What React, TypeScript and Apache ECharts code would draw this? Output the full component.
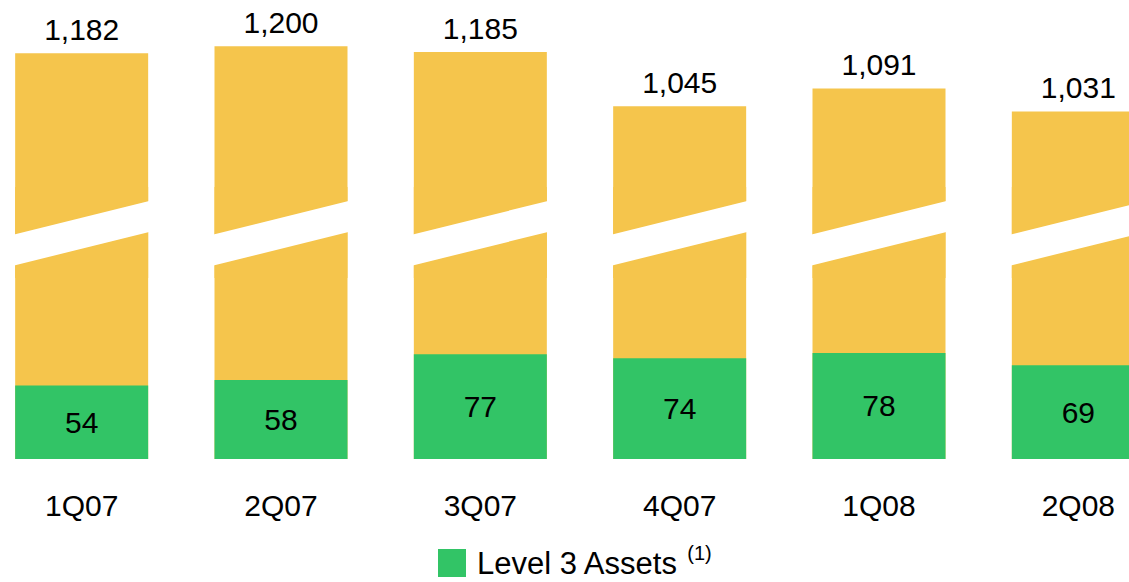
import React, { useEffect, useRef } from 'react';
import * as echarts from 'echarts';

const categories = ['1Q07', '2Q07', '3Q07', '4Q07', '1Q08', '2Q08'];
const totalValues = [1182, 1200, 1185, 1045, 1091, 1031];
const level3Values = [54, 58, 77, 74, 78, 69];
const legendLabel = 'Level 3 Assets';
const legendNote = '(1)';

// axis ranges of the two halves of the broken scale
const lowerAxisMax = 200;
const upperAxisMin = 600;
const upperAxisMax = 1250;
const breakAt = 166;

const YELLOW = '#F5C54C';
const GREEN = '#32C466';
const FONT = "'Liberation Sans', Arial, sans-serif";

export default function App() {
  const ref = useRef<HTMLDivElement>(null);
  useEffect(() => {
    const chart = echarts.init(ref.current as HTMLDivElement, null, { renderer: 'svg' });
    const fmt = (v: number) => v.toLocaleString('en-US');
    const option: any = {
      animation: false,
      backgroundColor: '#ffffff',
      textStyle: { fontFamily: FONT },
      grid: [
        { left: 0, right: 0, top: 187, bottom: 123 },
        { left: 0, right: 0, top: 27, bottom: 304 },
      ],
      xAxis: [
        {
          type: 'category', gridIndex: 0, data: categories,
          axisLine: { show: false }, axisTick: { show: false },
          axisLabel: { color: '#000', fontSize: 30, margin: 31, fontFamily: FONT },
        },
        {
          type: 'category', gridIndex: 1, data: categories, show: false,
        },
      ],
      yAxis: [
        { type: 'value', gridIndex: 0, min: 0, max: lowerAxisMax, show: false, splitLine: { show: false } },
        { type: 'value', gridIndex: 1, min: upperAxisMin, max: upperAxisMax, show: false, splitLine: { show: false } },
      ],
      legend: {
        left: 456, top: 543,
        padding: 0,
        itemWidth: 28, itemHeight: 28,
        data: [{ name: legendLabel, icon: 'rect' }],
        formatter: () => `{a|${legendLabel} }{b|${legendNote}}`,
        textStyle: {
          rich: {
            a: { fontSize: 31, color: '#000', fontFamily: FONT, padding: [0, 0, 0, 6], lineHeight: 40 },
            b: { fontSize: 20, color: '#000', fontFamily: FONT, verticalAlign: 'top', lineHeight: 20 },
          },
        },
        selectedMode: false,
      },
      series: [
        {
          name: 'totalLower', type: 'bar', xAxisIndex: 0, yAxisIndex: 0,
          data: totalValues, barWidth: 133, barGap: '-100%', clip: true,
          itemStyle: { color: YELLOW }, z: 2, silent: true,
        },
        {
          name: legendLabel, type: 'bar', xAxisIndex: 0, yAxisIndex: 0,
          data: level3Values, barWidth: 133, barGap: '-100%',
          itemStyle: { color: GREEN }, z: 3,
          label: { show: true, position: 'inside', color: '#000', fontSize: 30, fontFamily: FONT },
        },
        {
          name: 'totalUpper', type: 'bar', xAxisIndex: 1, yAxisIndex: 1,
          data: totalValues, barWidth: 133, clip: true,
          itemStyle: { color: YELLOW }, z: 2,
          label: {
            show: true, position: 'top', distance: 9, color: '#000', fontSize: 30, fontFamily: FONT,
            formatter: (p: any) => fmt(p.value),
          },
        },
        {
          name: 'breakBand', type: 'custom', xAxisIndex: 0, yAxisIndex: 0,
          data: categories.map((_, i) => [i, breakAt]),
          clip: false, z: 10, silent: true,
          renderItem: (params: any, api: any) => {
            const c = api.coord([api.value(0), api.value(1)]);
            const hw = 67.5;
            const slant = 33.5 / 2;
            const th = 15.5;
            return {
              type: 'polygon',
              shape: {
                points: [
                  [c[0] - hw, c[1] + slant - th],
                  [c[0] + hw, c[1] - slant - th],
                  [c[0] + hw, c[1] - slant + th],
                  [c[0] - hw, c[1] + slant + th],
                ],
              },
              style: { fill: '#ffffff' },
            };
          },
        },
      ],
    };
    chart.setOption(option);
    return () => chart.dispose();
  }, []);
  return (
    <div style={{ position: 'fixed', left: 0, top: 0, width: 1129, height: 582, overflow: 'hidden', background: '#fff' }}>
      <div ref={ref} style={{ position: 'absolute', left: -18, top: 0, width: 1196, height: 582 }} />
    </div>
  );
}
